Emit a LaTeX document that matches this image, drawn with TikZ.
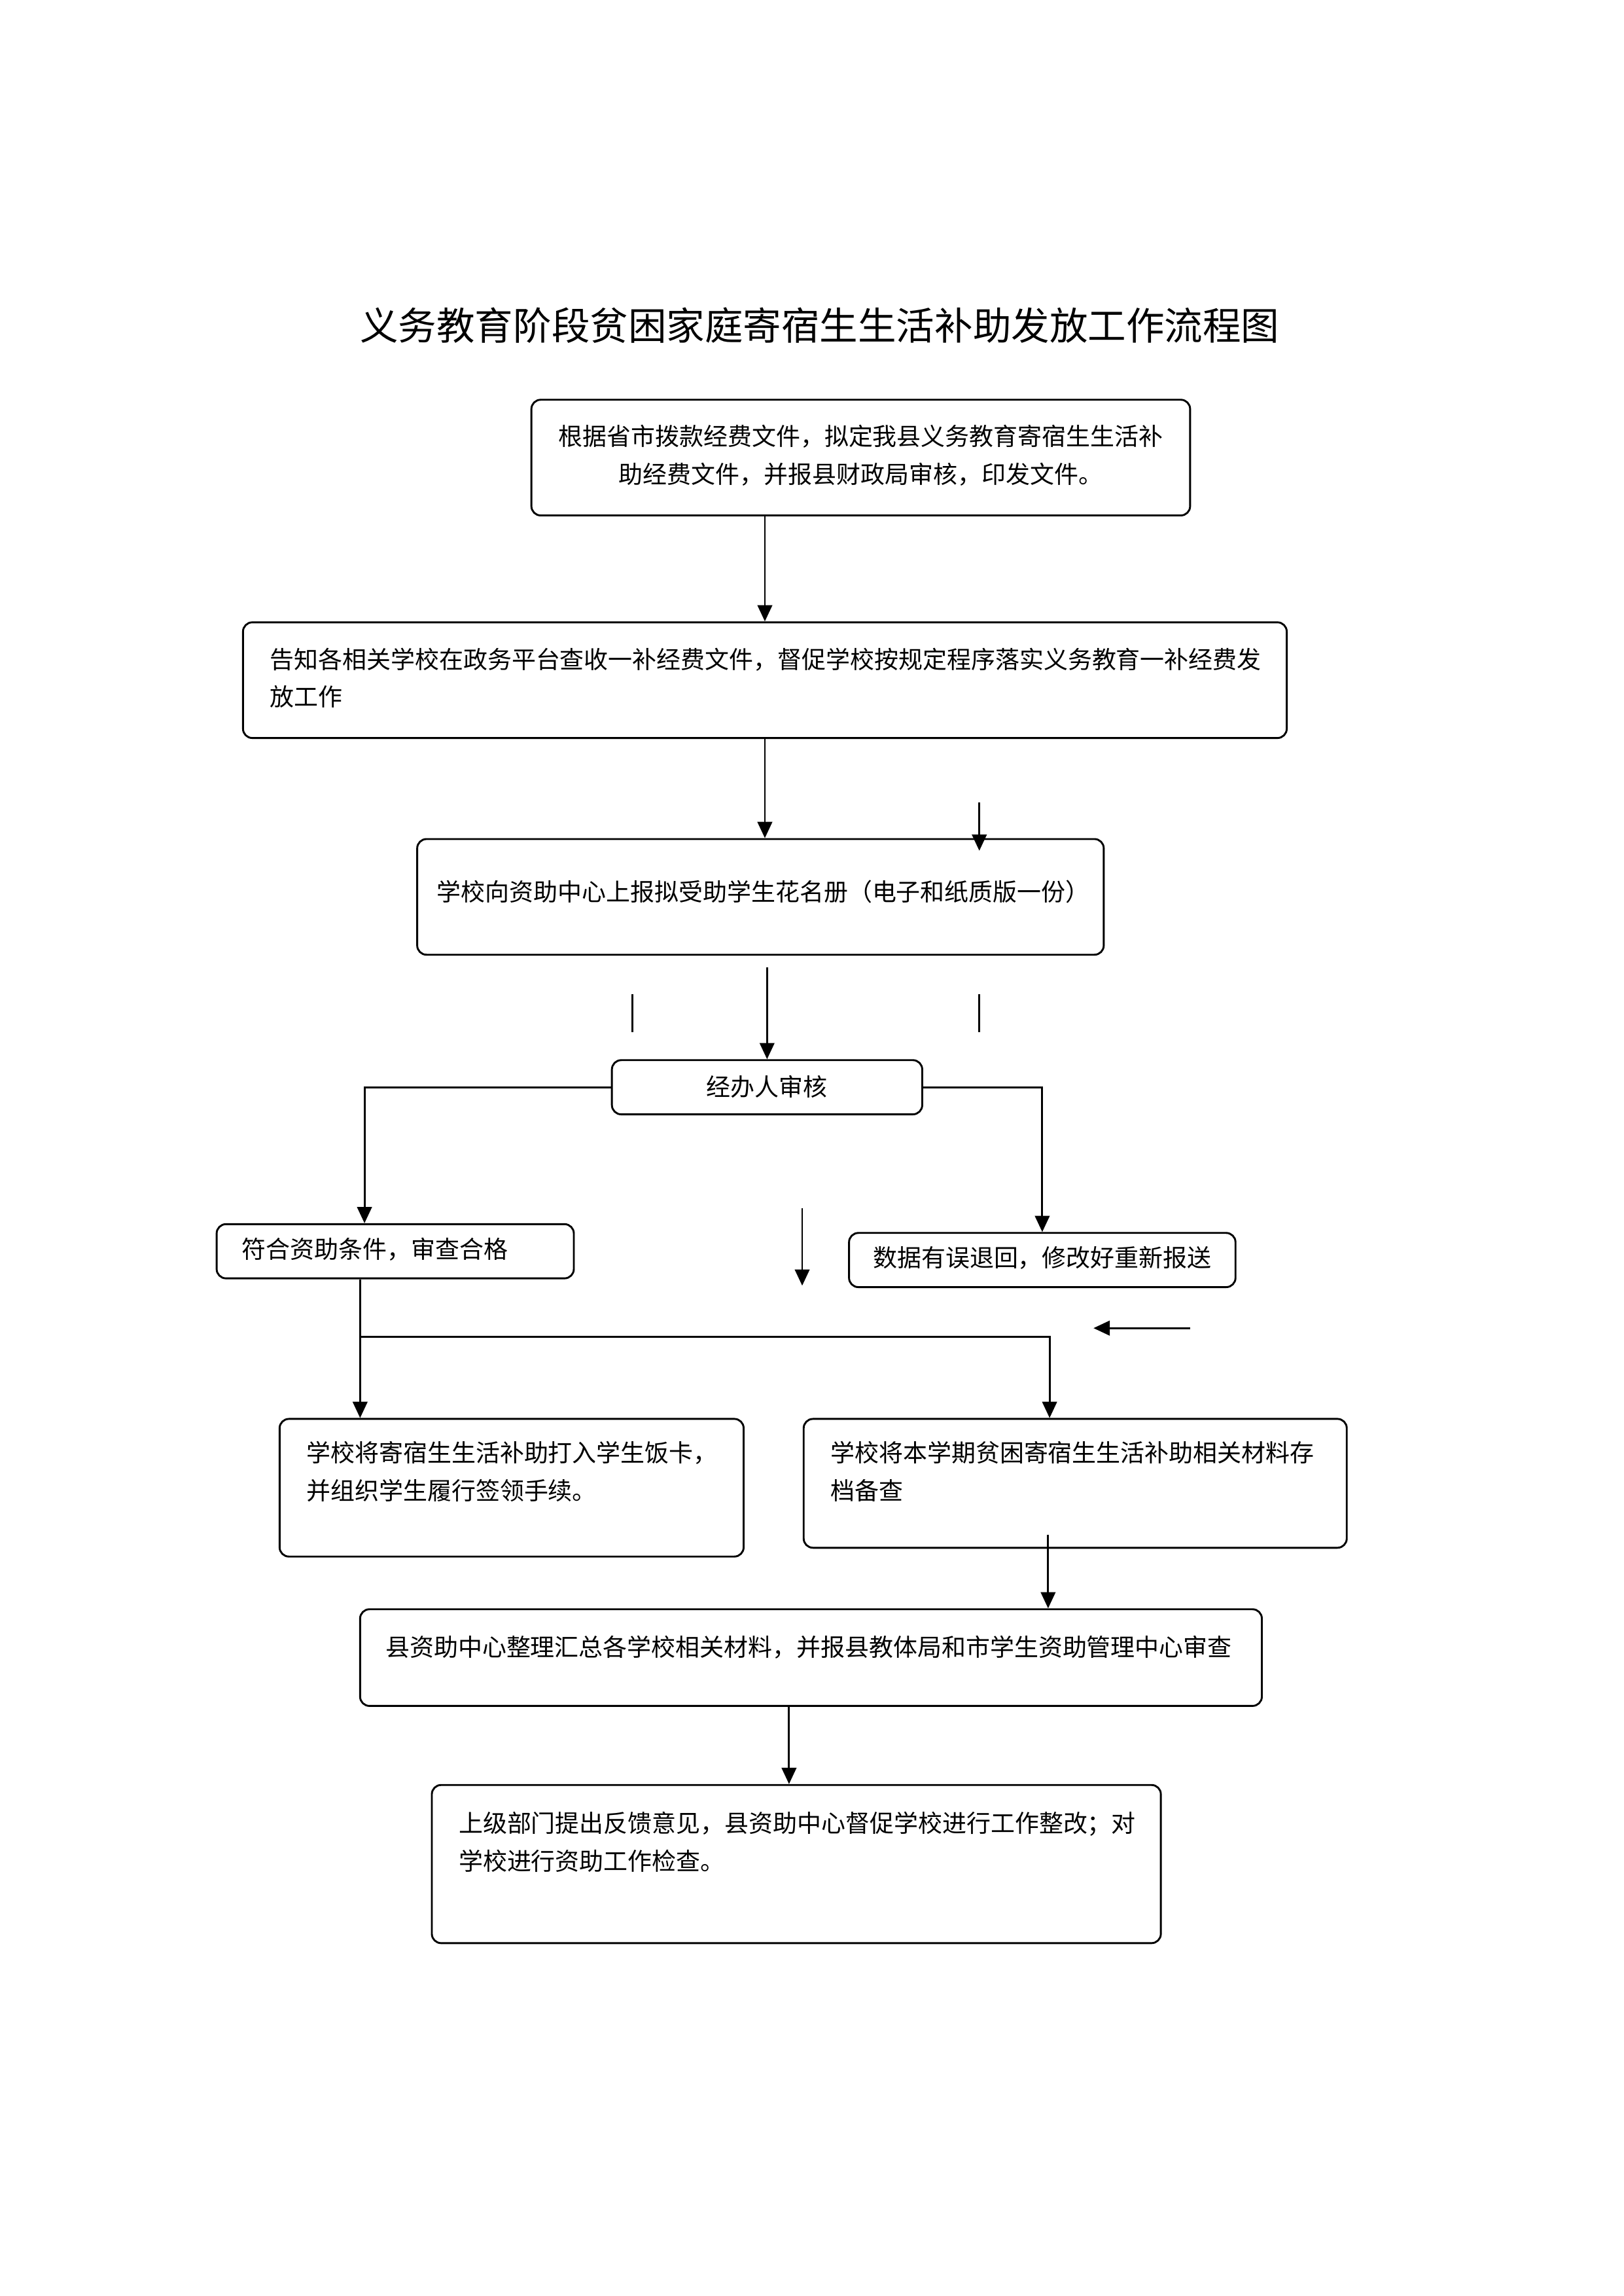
\documentclass[tikz,border=0pt]{standalone}
\usepackage{fontspec}
\setmainfont{Noto Sans CJK SC}
\usetikzlibrary{arrows.meta}

\tikzset{
  box/.style={draw, rounded corners=1.2mm, line width=0.7pt, inner sep=0pt},
  txt/.style={inner sep=0pt, font=\fontsize{8.9pt}{13.9pt}\selectfont, align=left},
  titletxt/.style={inner sep=0pt, font=\fontsize{14.1pt}{17pt}\selectfont},
  arr/.style={-{Triangle[length=2.1mm,width=1.9mm]}, line width=0.7pt},
  conn/.style={line width=0.7pt}
}

\begin{document}
\begin{tikzpicture}[x=0.18936mm, y=-0.18936mm]
    \def\u{0.18936mm}
    \useasboundingbox (0,0) rectangle (1109,1568);

    % Title
    \node[titletxt] (title) at (560,222) {义务教育阶段贫困家庭寄宿生生活补助发放工作流程图};

    % Boxes
    \node[box, minimum width=450*\u, minimum height=79*\u] (file) at (588,312.5) {};
    \node[txt, align=center, anchor=north] (fileText) at (588,290) {根据省市拨款经费文件，拟定我县义务教育寄宿生生活补\\助经费文件，并报县财政局审核，印发文件。};

    \node[box, minimum width=713*\u, minimum height=79*\u] (notice) at (522.5,464.5) {};
    \node[txt, anchor=north west] (noticeText) at (184,442) {告知各相关学校在政务平台查收一补经费文件，督促学校按规定程序落实义务教育一补经费发\\放工作};

    \node[box, minimum width=469*\u, minimum height=79*\u] (roster) at (519.5,612.5) {};
    \node[txt] (rosterText) at (521.5,609) {学校向资助中心上报拟受助学生花名册（电子和纸质版一份）};

    \node[box, minimum width=212*\u, minimum height=37*\u] (check) at (524,742.5) {};
    \node[txt] (checkText) at (524,742) {经办人审核};

    \node[box, minimum width=244*\u, minimum height=37*\u] (pass) at (270,854.5) {};
    \node[txt, anchor=west] (passText) at (165,853) {符合资助条件，审查合格};

    \node[box, minimum width=264*\u, minimum height=37*\u] (reject) at (712,860.5) {};
    \node[txt, anchor=west] (rejectText) at (596,859) {数据有误退回，修改好重新报送};

    \node[box, minimum width=317*\u, minimum height=94*\u] (card) at (349.5,1016) {};
    \node[txt, anchor=north west] (cardText) at (209,984) {学校将寄宿生生活补助打入学生饭卡，\\并组织学生履行签领手续。};

    \node[box, minimum width=371*\u, minimum height=88*\u] (archive) at (734.5,1013) {};
    \node[txt, anchor=north west] (archiveText) at (567,984) {学校将本学期贫困寄宿生生活补助相关材料存\\档备查};

    \node[box, minimum width=616*\u, minimum height=66*\u] (summary) at (554,1132) {};
    \node[txt, anchor=west] (summaryText) at (263,1125) {县资助中心整理汇总各学校相关材料，并报县教体局和市学生资助管理中心审查};

    \node[box, minimum width=498*\u, minimum height=108*\u] (feedback) at (544,1273) {};
    \node[txt, anchor=north west] (feedbackText) at (313,1237) {上级部门提出反馈意见，县资助中心督促学校进行工作整改；对\\学校进行资助工作检查。};

    % Connectors
    \draw[arr] (notice.north |- file.south) -- (notice.north);
    \draw[arr] (notice.south) -- (notice.south |- roster.north);

    \coordinate (extraA) at (669,548);
    \coordinate (extraB) at (669,581);
    \draw[arr] (extraA) -- (extraB);

    \coordinate (tickL) at (432,679);
    \coordinate (tickR) at (669,679);
    \draw[conn] (tickL) -- ++(0,26);
    \draw[conn] (tickR) -- ++(0,26);

    \draw[arr, shorten <=1.5mm] (check.north |- roster.south) -- (check.north);

    \coordinate (leftX) at (249,0);
    \draw[arr] (check.west) -| (leftX |- pass.north);
    \draw[arr] (check.east) -| (reject.north);

    \coordinate (extraC) at (548,825);
    \draw[arr] (extraC) -- ++(0,53);
    \coordinate (extraD) at (813,907);
    \draw[arr] (extraD) -- ++(-66,0);

    \coordinate (split) at (246,913);
    \coordinate (rightX) at (717,0);
    \draw[conn] (pass.south -| split) -- (split);
    \draw[arr] (split) -- (split |- card.north);
    \draw[arr] (split) -| (rightX |- archive.north);

    \coordinate (archiveOut) at (716,1048);
    \draw[arr] (archiveOut) -- (archiveOut |- summary.north);

    \coordinate (midX) at (539,0);
    \draw[arr] (midX |- summary.south) -- (midX |- feedback.north);

\end{tikzpicture}
\end{document}
